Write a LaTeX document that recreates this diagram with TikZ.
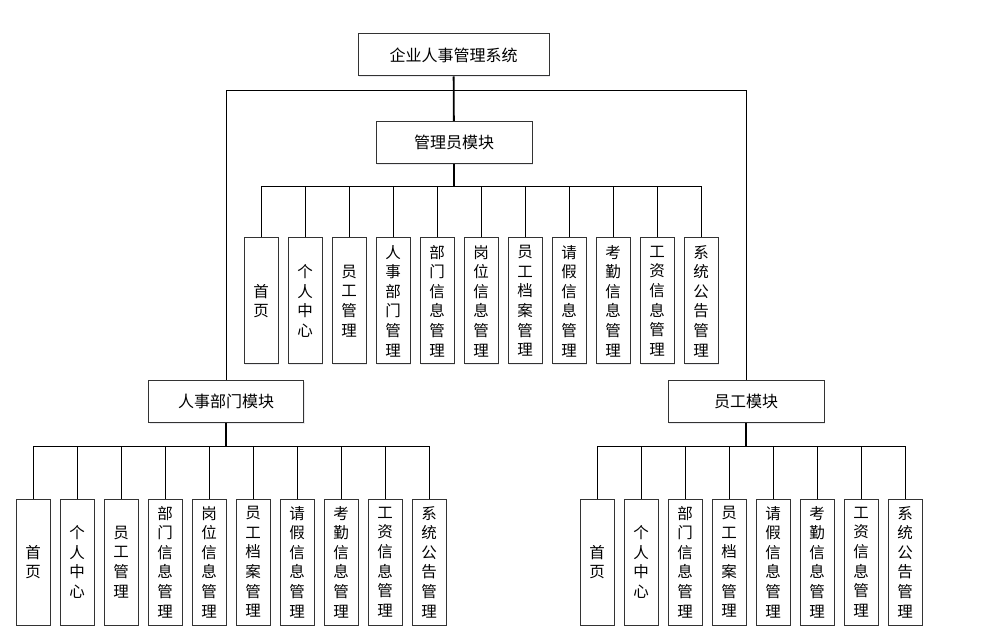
\documentclass[tikz,border=0pt]{standalone}
\usepackage{fontspec}
\setmainfont{Noto Sans CJK SC}
\usetikzlibrary{shadows}
\tikzset{
  modbox/.style={draw=black!80,line width=1pt,fill=white,
    drop shadow={shadow xshift=1.2pt,shadow yshift=-1.2pt,fill=blue!10!gray!30},
    minimum height=42pt,inner sep=0pt,font=\fontsize{16}{19}\selectfont},
  leafbox/.style={draw=black!80,line width=1pt,fill=white,
    drop shadow={shadow xshift=1.2pt,shadow yshift=-1.2pt,fill=blue!10!gray!30},
    minimum width=34pt,minimum height=126pt,inner sep=0pt,align=center,
    font=\fontsize{15.5}{19.6}\selectfont},
  link/.style={line width=1pt,black},
  trunk/.style={line width=1.8pt,black}
}
\begin{document}
\begin{tikzpicture}[x=1pt,y=-1pt]
  \useasboundingbox (0,0) rectangle (997,636);
  \node[modbox,minimum width=191pt] (sys) at (453.5,55) {企业人事管理系统};
  \node[modbox,minimum width=156pt] (admin) at (454,142.5) {管理员模块};
  \node[modbox,minimum width=155pt] (hr) at (226,401.5) {人事部门模块};
  \node[modbox,minimum width=156pt] (emp) at (746,401.5) {员工模块};
  \coordinate (sysbus) at (454,91);
  \coordinate (adminbus) at (454,186.5);
  \coordinate (hrbus) at (226,447);
  \coordinate (empbus) at (746,447);
  \draw[link] (sysbus) -| (hr.north);
  \draw[link] (sysbus) -| (emp.north);
  % admin leaves
  \foreach \t [count=\i from 0] in {首\\页,个\\人\\中\\心,员\\工\\管\\理,人\\事\\部\\门\\管\\理,
      部\\门\\信\\息\\管\\理,岗\\位\\信\\息\\管\\理,员\\工\\档\\案\\管\\理,请\\假\\信\\息\\管\\理,
      考\\勤\\信\\息\\管\\理,工\\资\\信\\息\\管\\理,系\\统\\公\\告\\管\\理}{
    \node[leafbox] (a\i) at (261+44*\i,301) {\t};
    \draw[link] (adminbus) -| (a\i.north);
  }
  % hr leaves
  \foreach \t [count=\i from 0] in {首\\页,个\\人\\中\\心,员\\工\\管\\理,
      部\\门\\信\\息\\管\\理,岗\\位\\信\\息\\管\\理,员\\工\\档\\案\\管\\理,请\\假\\信\\息\\管\\理,
      考\\勤\\信\\息\\管\\理,工\\资\\信\\息\\管\\理,系\\统\\公\\告\\管\\理}{
    \node[leafbox] (h\i) at (33+44*\i,562) {\t};
    \draw[link] (hrbus) -| (h\i.north);
  }
  % employee leaves
  \foreach \t [count=\i from 0] in {首\\页,个\\人\\中\\心,
      部\\门\\信\\息\\管\\理,员\\工\\档\\案\\管\\理,请\\假\\信\\息\\管\\理,
      考\\勤\\信\\息\\管\\理,工\\资\\信\\息\\管\\理,系\\统\\公\\告\\管\\理}{
    \node[leafbox] (e\i) at (597+44*\i,562) {\t};
    \draw[link] (empbus) -| (e\i.north);
  }
  % trunks
  \draw[trunk] (sys) -- (admin);
  \draw[trunk] (admin) -- (adminbus);
  \draw[trunk] (hr) -- (hrbus);
  \draw[trunk] (emp) -- (empbus);
\end{tikzpicture}
\end{document}
